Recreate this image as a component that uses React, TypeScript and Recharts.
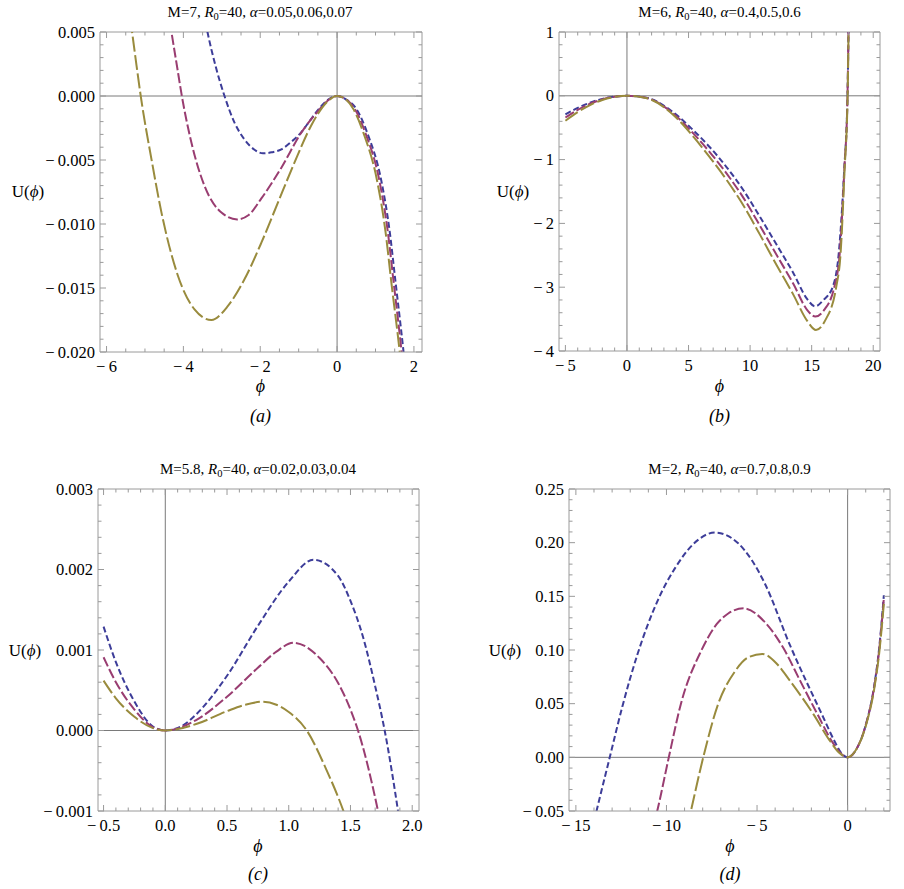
import { LineChart, Line, XAxis, YAxis, ReferenceLine } from 'recharts';

const W = 904;
const H = 889;
const FRAME = '#9a9a9a';
const ZERO = '#7a7a7a';
const SERIF = "'Liberation Serif', 'DejaVu Serif', serif";
const BLUE = '#3d3d99';
const PURPLE = '#993d71';
const OLIVE = '#998b3d';
const XAXIS_H = 30;
const YAXIS_W = 60;

// (a) M=7
const aBlue = [[-3.55, 0.0078], [-3.38, 0.0051], [-3.15, 0.0022], [-2.93, 0], [-2.67, -0.00208], [-2.41, -0.00339], [-2.15, -0.0042], [-1.93, -0.00448], [-1.7, -0.0044], [-1.45, -0.00417], [-1.2, -0.0036], [-0.94, -0.00286], [-0.7, -0.0019], [-0.5, -0.0011], [-0.24, -0.0003], [0, 0], [0.25, -0.0003], [0.5, -0.001], [0.8, -0.003], [1.15, -0.0066], [1.37, -0.0106], [1.52, -0.0145], [1.73, -0.02], [1.85, -0.0235]];
const aPurple = [[-4.45, 0.0078], [-4.31, 0.005], [-4.17, 0.0024], [-4.04, 0], [-3.79, -0.00365], [-3.45, -0.00703], [-3.01, -0.00911], [-2.6, -0.00964], [-2.3, -0.0093], [-1.97, -0.008], [-1.45, -0.0056], [-0.94, -0.0029], [-0.5, -0.0012], [-0.24, -0.00035], [0, 0], [0.25, -0.0003], [0.46, -0.001], [0.75, -0.003], [1.1, -0.0066], [1.32, -0.0106], [1.47, -0.0145], [1.68, -0.02], [1.8, -0.0235]];
const aOlive = [[-5.45, 0.0075], [-5.34, 0.0051], [-5.22, 0.0024], [-5.11, 0], [-4.83, -0.00495], [-4.57, -0.00911], [-4.14, -0.01406], [-3.71, -0.01667], [-3.27, -0.0175], [-2.84, -0.0164], [-2.41, -0.01432], [-1.97, -0.01146], [-1.54, -0.00833], [-1.11, -0.00521], [-0.68, -0.00234], [-0.5, -0.0014], [-0.24, -0.0004], [0, 0], [0.2, -0.0002], [0.42, -0.001], [0.7, -0.003], [1.04, -0.0066], [1.26, -0.0106], [1.41, -0.0145], [1.63, -0.02], [1.75, -0.0235]];
const aXMajor = [-6, -4, -2, 0, 2];
const aXLabels = ['\u2212\u20096', '\u2212\u20094', '\u2212\u20092', '0', '2'];
const aYMajor = [0.005, 0, -0.005, -0.01, -0.015, -0.02];
const aYLabels = ['0.005', '0.000', '\u2212\u20090.005', '\u2212\u20090.010', '\u2212\u20090.015', '\u2212\u20090.020'];

// (b) M=6
const bBlue = [[-5, -0.29], [-4, -0.19], [-3, -0.108], [-2, -0.048], [-1, -0.012], [0, 0], [1, -0.013], [1.87, -0.045], [3.77, -0.26], [5.39, -0.54], [6.75, -0.81], [8.1, -1.12], [9.46, -1.48], [10.81, -1.9], [12.17, -2.34], [13.52, -2.78], [14.61, -3.18], [15.28, -3.3], [15.96, -3.2], [16.72, -2.99], [17.2, -2.47], [17.64, -1.17], [17.91, 0], [18.05, 2]];
const bPurple = [[-5, -0.34], [-4, -0.22], [-3, -0.125], [-2, -0.056], [-1, -0.014], [0, 0], [1, -0.014], [1.87, -0.049], [3.77, -0.28], [5.39, -0.59], [6.75, -0.89], [8.1, -1.22], [9.46, -1.6], [10.81, -2.04], [12.17, -2.5], [13.52, -2.95], [14.61, -3.35], [15.3, -3.46], [16, -3.36], [16.85, -2.99], [17.28, -2.47], [17.65, -1.17], [17.91, 0], [18.05, 2]];
const bOlive = [[-5, -0.39], [-4, -0.255], [-3, -0.145], [-2, -0.065], [-1, -0.017], [0, 0], [1, -0.015], [1.87, -0.053], [3.77, -0.3], [5.39, -0.64], [6.75, -0.97], [8.1, -1.32], [9.46, -1.72], [10.81, -2.18], [12.17, -2.66], [13.52, -3.12], [14.61, -3.52], [15.35, -3.67], [16.1, -3.52], [17, -2.99], [17.35, -2.47], [17.67, -1.17], [17.92, 0], [18.05, 2]];
const bXMajor = [-5, 0, 5, 10, 15, 20];
const bXLabels = ['\u2212\u20095', '0', '5', '10', '15', '20'];
const bYMajor = [1, 0, -1, -2, -3, -4];
const bYLabels = ['1', '0', '\u2212\u20091', '\u2212\u20092', '\u2212\u20093', '\u2212\u20094'];

// (c) M=5.8
const cBlue = [[-0.5, 0.00129], [-0.4, 0.00085], [-0.25, 0.00036], [-0.1, 0.00005], [0, 0], [0.15, 0.00007], [0.25, 0.0002], [0.5, 0.00068], [0.75, 0.0013], [1, 0.00185], [1.2, 0.00212], [1.4, 0.00192], [1.5, 0.00161], [1.6, 0.00117], [1.7, 0.00055], [1.777, 0], [1.885, -0.001], [1.95, -0.0017]];
const cPurple = [[-0.5, 0.00091], [-0.4, 0.0006], [-0.25, 0.00026], [-0.1, 0.00004], [0, 0], [0.25, 0.00013], [0.5, 0.00042], [0.75, 0.00078], [0.9, 0.00098], [1.04, 0.00109], [1.25, 0.0009], [1.4, 0.00059], [1.5, 0.00026], [1.561, 0], [1.723, -0.001], [1.8, -0.0016]];
const cOlive = [[-0.5, 0.00062], [-0.4, 0.0004], [-0.25, 0.00017], [-0.1, 0.00003], [0, 0], [0.25, 0.00008], [0.5, 0.00024], [0.65, 0.00032], [0.787, 0.000357], [0.9, 0.00032], [1, 0.00023], [1.146, 0], [1.3, -0.00047], [1.443, -0.001], [1.5, -0.00125]];
const cXMajor = [-0.5, 0, 0.5, 1, 1.5, 2];
const cXLabels = ['\u2212\u20090.5', '0.0', '0.5', '1.0', '1.5', '2.0'];
const cYMajor = [0.003, 0.002, 0.001, 0, -0.001];
const cYLabels = ['0.003', '0.002', '0.001', '0.000', '\u2212\u20090.001'];

// (d) M=2
const dBlue = [[-14.1, -0.067], [-13.86, -0.05], [-13.13, 0], [-12.44, 0.047], [-11.6, 0.096], [-10.46, 0.147], [-9.5, 0.177], [-8.52, 0.1986], [-7.33, 0.2094], [-6.04, 0.1994], [-5.3, 0.184], [-4.6, 0.163], [-3.17, 0.104], [-1.42, 0.04], [-0.72, 0.015], [-0.35, 0.004], [0, 0], [0.5, 0.008], [1, 0.03], [1.5, 0.07], [1.75, 0.103], [2, 0.151]];
const dPurple = [[-10.7, -0.063], [-10.51, -0.05], [-9.87, 0], [-9.2, 0.05], [-8.06, 0.1], [-7.23, 0.124], [-6.59, 0.134], [-5.73, 0.1388], [-4.57, 0.126], [-3.57, 0.1025], [-2.61, 0.071], [-1.66, 0.04], [-0.87, 0.015], [-0.4, 0.004], [0, 0], [0.5, 0.008], [1, 0.03], [1.5, 0.069], [1.75, 0.101], [2, 0.148]];
const dOlive = [[-8.85, -0.065], [-8.65, -0.05], [-7.97, 0], [-7.14, 0.05], [-6.22, 0.08], [-5.5, 0.093], [-4.71, 0.0963], [-3.9, 0.087], [-3.17, 0.071], [-1.88, 0.04], [-0.96, 0.015], [-0.45, 0.004], [0, 0], [0.5, 0.008], [1, 0.029], [1.5, 0.067], [1.75, 0.098], [2, 0.143]];
const dXMajor = [-15, -10, -5, 0];
const dXLabels = ['\u2212\u200915', '\u2212\u200910', '\u2212\u20095', '0'];
const dYMajor = [0.25, 0.2, 0.15, 0.1, 0.05, 0, -0.05];
const dYLabels = ['0.25', '0.20', '0.15', '0.10', '0.05', '0.00', '\u2212\u20090.05'];

type Box = { l: number; t: number; r: number; b: number };

const pts = (a: number[][]) => a.map(([x, y]) => ({ x, y }));

// minor + major tick positions (not data)
const steps = (from: number, to: number, step: number) => {
  const out: number[] = [];
  const n = Math.round((to - from) / step);
  for (let i = 0; i <= n; i++) out.push(Number((from + i * step).toFixed(6)));
  return out;
};

type PanelProps = {
  box: Box;
  xDomain: [number, number];
  yDomain: [number, number];
  xMajor: number[];
  xLabels: string[];
  xMinor: [number, number, number];
  yMajor: number[];
  yLabels: string[];
  yMinor: [number, number, number];
  blue: number[][];
  purple: number[][];
  olive: number[][];
};

function Panel(p: PanelProps) {
  const { box } = p;
  const xTicks = steps(...p.xMinor);
  const yTicks = steps(...p.yMinor);
  const xTol = p.xMinor[2] / 10;
  const yTol = p.yMinor[2] / 10;

  const xTick = (t: any) => {
    const i = p.xMajor.findIndex((m) => Math.abs(m - t.payload.value) < xTol);
    const len = i >= 0 ? 6 : 3.5;
    const x = t.payload.coordinate ?? t.x;
    return (
      <g>
        <line x1={x} x2={x} y1={box.b} y2={box.b - len} stroke={FRAME} />
        <line x1={x} x2={x} y1={box.t} y2={box.t + len} stroke={FRAME} />
        {i >= 0 && (
          <text x={x} y={box.b + 20} textAnchor="middle" fontSize={16.5} fontFamily={SERIF} fill="#000">
            {p.xLabels[i]}
          </text>
        )}
      </g>
    );
  };

  const yTick = (t: any) => {
    const i = p.yMajor.findIndex((m) => Math.abs(m - t.payload.value) < yTol);
    const len = i >= 0 ? 6 : 3.5;
    const y = t.payload.coordinate ?? t.y;
    return (
      <g>
        <line x1={box.l} x2={box.l + len} y1={y} y2={y} stroke={FRAME} />
        <line x1={box.r} x2={box.r - len} y1={y} y2={y} stroke={FRAME} />
        {i >= 0 && (
          <text x={box.l - 5} y={y + 5.5} textAnchor="end" fontSize={16.5} fontFamily={SERIF} fill="#000">
            {p.yLabels[i]}
          </text>
        )}
      </g>
    );
  };

  const series = [
    { d: p.blue, c: BLUE, dash: '6 3' },
    { d: p.purple, c: PURPLE, dash: '10 3' },
    { d: p.olive, c: OLIVE, dash: '15 3.5' },
  ];

  return (
    <div style={{ position: 'absolute', left: 0, top: 0 }}>
      <LineChart
        width={W}
        height={H}
        margin={{ top: box.t, left: box.l - YAXIS_W, right: W - box.r, bottom: H - box.b - XAXIS_H }}
        style={{ overflow: 'visible' }}
      >
        <XAxis
          type="number"
          dataKey="x"
          domain={p.xDomain}
          allowDataOverflow
          ticks={xTicks}
          interval={0}
          height={XAXIS_H}
          tickSize={0}
          tickMargin={0}
          tickLine={false}
          axisLine={{ stroke: FRAME }}
          tick={xTick}
        />
        <YAxis
          type="number"
          dataKey="y"
          domain={p.yDomain}
          allowDataOverflow
          ticks={yTicks}
          interval={0}
          width={YAXIS_W}
          tickSize={0}
          tickMargin={0}
          tickLine={false}
          axisLine={{ stroke: FRAME }}
          tick={yTick}
        />
        <ReferenceLine y={p.yDomain[1]} stroke={FRAME} />
        <ReferenceLine x={p.xDomain[1]} stroke={FRAME} />
        <ReferenceLine y={0} stroke={ZERO} />
        <ReferenceLine x={0} stroke={ZERO} />
        {series.map((s, k) => (
          <Line
            key={k}
            data={pts(s.d)}
            dataKey="y"
            type="monotone"
            stroke={s.c}
            strokeWidth={2}
            strokeDasharray={s.dash}
            dot={false}
            activeDot={false}
            isAnimationActive={false}
          />
        ))}
      </LineChart>
    </div>
  );
}

function Title({ x, y, m, alpha }: { x: number; y: number; m: string; alpha: string }) {
  return (
    <text x={x} y={y} textAnchor="middle" fontSize={15} fontFamily={SERIF} fill="#000">
      {`M=${m}, `}
      <tspan fontStyle="italic">R</tspan>
      <tspan fontSize={10.5} dy={3}>0</tspan>
      <tspan dy={-3}>=40, </tspan>
      <tspan fontStyle="italic">α</tspan>
      {`=${alpha}`}
    </text>
  );
}

function Labels({ tx, ty, m, alpha, ux, uy, px, py, cy, cap }: any) {
  return (
    <g>
      <Title x={tx} y={ty} m={m} alpha={alpha} />
      <text x={ux} y={uy} textAnchor="middle" fontSize={17} fontFamily={SERIF} fill="#000">
        U(<tspan fontStyle="italic">ϕ</tspan>)
      </text>
      <text x={px} y={py} textAnchor="middle" fontSize={18} fontStyle="italic" fontFamily={SERIF} fill="#000">
        ϕ
      </text>
      <text x={px} y={cy} textAnchor="middle" fontSize={18} fontStyle="italic" fontFamily={SERIF} fill="#000">
        {`(${cap})`}
      </text>
    </g>
  );
}

export default function App() {
  return (
    <div style={{ position: 'absolute', left: 0, top: 0, width: W, height: H, background: '#fff' }}>
      <Panel
        box={{ l: 100, t: 32, r: 422, b: 352 }}
        xDomain={[-6.17, 2.21]}
        yDomain={[-0.02, 0.005]}
        xMajor={aXMajor}
        xLabels={aXLabels}
        xMinor={[-6, 2, 0.5]}
        yMajor={aYMajor}
        yLabels={aYLabels}
        yMinor={[-0.02, 0.005, 0.001]}
        blue={aBlue}
        purple={aPurple}
        olive={aOlive}
      />
      <Panel
        box={{ l: 559, t: 32, r: 880, b: 351 }}
        xDomain={[-5.52, 20.55]}
        yDomain={[-4, 1]}
        xMajor={bXMajor}
        xLabels={bXLabels}
        xMinor={[-5, 20, 1]}
        yMajor={bYMajor}
        yLabels={bYLabels}
        yMinor={[-4, 1, 0.2]}
        blue={bBlue}
        purple={bPurple}
        olive={bOlive}
      />
      <Panel
        box={{ l: 98, t: 489, r: 419, b: 811 }}
        xDomain={[-0.545, 2.055]}
        yDomain={[-0.001, 0.003]}
        xMajor={cXMajor}
        xLabels={cXLabels}
        xMinor={[-0.5, 2, 0.1]}
        yMajor={cYMajor}
        yLabels={cYLabels}
        yMinor={[-0.001, 0.003, 0.0002]}
        blue={cBlue}
        purple={cPurple}
        olive={cOlive}
      />
      <Panel
        box={{ l: 569, t: 489, r: 890, b: 811 }}
        xDomain={[-15.38, 2.34]}
        yDomain={[-0.05, 0.25]}
        xMajor={dXMajor}
        xLabels={dXLabels}
        xMinor={[-15, 2, 1]}
        yMajor={dYMajor}
        yLabels={dYLabels}
        yMinor={[-0.05, 0.25, 0.01]}
        blue={dBlue}
        purple={dPurple}
        olive={dOlive}
      />
      <svg width={W} height={H} style={{ position: 'absolute', left: 0, top: 0, pointerEvents: 'none' }}>
        <Labels tx={260} ty={17} m="7" alpha="0.05,0.06,0.07" ux={28} uy={197} px={260.5} py={392} cy={421.5} cap="a" />
        <Labels tx={719.5} ty={17} m="6" alpha="0.4,0.5,0.6" ux={513} uy={197} px={719.5} py={392} cy={421.5} cap="b" />
        <Labels tx={258} ty={474} m="5.8" alpha="0.02,0.03,0.04" ux={25} uy={656} px={258} py={852} cy={880} cap="c" />
        <Labels tx={729.5} ty={474} m="2" alpha="0.7,0.8,0.9" ux={505} uy={656} px={730} py={852} cy={880} cap="d" />
      </svg>
    </div>
  );
}
